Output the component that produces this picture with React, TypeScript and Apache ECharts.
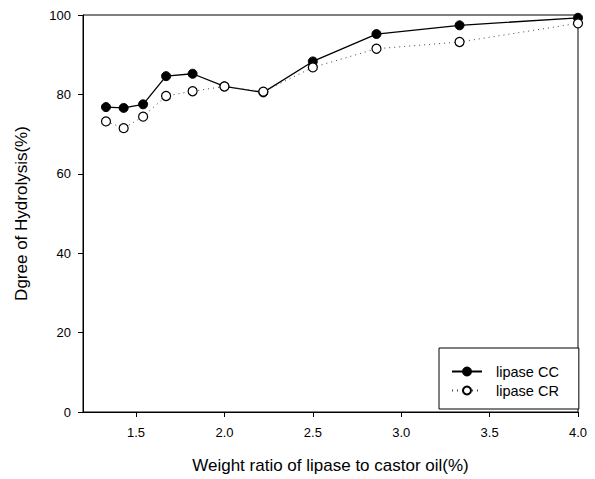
import React, { useEffect, useRef } from "react";
import * as echarts from "echarts";

const ratios = [1.33, 1.43, 1.54, 1.67, 1.82, 2.0, 2.22, 2.5, 2.86, 3.33, 4.0];
const lipaseCC = [76.8, 76.6, 77.5, 84.6, 85.2, 82.0, 80.5, 88.3, 95.2, 97.4, 99.3];
const lipaseCR = [73.2, 71.5, 74.4, 79.6, 80.8, 82.0, 80.7, 86.8, 91.5, 93.2, 97.9];
const xTicks = [1.5, 2.0, 2.5, 3.0, 3.5, 4.0];
const seriesNames = ["lipase CC", "lipase CR"];
const xTitle = "Weight ratio of lipase to castor oil(%)";
const yTitle = "Dgree of Hydrolysis(%)";

const FONT = "'Liberation Sans', Arial, Helvetica, sans-serif";

export default function App() {
  const ref = useRef<HTMLDivElement>(null);
  useEffect(() => {
    if (!ref.current) return;
    const chart = echarts.init(ref.current, undefined, { renderer: "svg" });
    const pairs = (ys: number[]) => ratios.map((x, i) => [x, ys[i]]);
    chart.setOption({
      animation: false,
      backgroundColor: "#fff",
      textStyle: { fontFamily: FONT, color: "#000" },
      grid: {
        left: 83,
        right: 17,
        top: 15,
        bottom: 67,
        show: true,
        borderColor: "#000",
        borderWidth: 1,
        backgroundColor: "transparent",
      },
      legend: {
        orient: "vertical",
        left: 439,
        top: 348,
        padding: [16, 20, 11, 12],
        itemGap: 4,
        itemWidth: 30,
        itemHeight: 10,
        borderColor: "#000",
        borderWidth: 1,
        backgroundColor: "#fff",
        textStyle: { fontFamily: FONT, fontSize: 14.5, color: "#000", padding: [0, 0, 0, 9] },
        data: seriesNames,
      },
      xAxis: {
        type: "value",
        min: 1.2,
        max: 4.0,
        name: xTitle,
        nameLocation: "middle",
        nameGap: 45,
        nameTextStyle: { fontFamily: FONT, fontSize: 17, color: "#000" },
        axisLine: { show: true, lineStyle: { color: "#000", width: 1 } },
        axisTick: { show: true, length: 5, inside: false, customValues: xTicks, lineStyle: { color: "#000" } },
        axisLabel: {
          customValues: xTicks,
          margin: 14,
          fontFamily: FONT,
          fontSize: 13,
          color: "#000",
          formatter: (v: number) => v.toFixed(1),
        },
        splitLine: { show: false },
      },
      yAxis: {
        type: "value",
        min: 0,
        max: 100,
        interval: 20,
        name: yTitle,
        nameLocation: "middle",
        nameGap: 53,
        nameTextStyle: { fontFamily: FONT, fontSize: 17, color: "#000" },
        axisLine: { show: true, lineStyle: { color: "#000", width: 1 } },
        axisTick: { show: true, length: 5, inside: false, lineStyle: { color: "#000" } },
        axisLabel: { margin: 12, fontFamily: FONT, fontSize: 13, color: "#000" },
        splitLine: { show: false },
      },
      series: [
        {
          name: seriesNames[0],
          type: "line",
          data: pairs(lipaseCC),
          symbol: "circle",
          symbolSize: 9,
          clip: false,
          lineStyle: { color: "#000", width: 1.3, type: "solid" },
          itemStyle: { color: "#000", borderColor: "#000", borderWidth: 1 },
          z: 2,
        },
        {
          name: seriesNames[1],
          type: "line",
          data: pairs(lipaseCR),
          symbol: "circle",
          symbolSize: 9,
          clip: false,
          lineStyle: { color: "#444", width: 1, type: [1, 4] },
          itemStyle: { color: "#fff", borderColor: "#000", borderWidth: 1.2 },
          z: 3,
        },
      ],
    });
    return () => chart.dispose();
  }, []);
  return (
    <div
      ref={ref}
      style={{ position: "fixed", left: 0, top: 0, width: 595, height: 479, background: "#fff" }}
    />
  );
}
